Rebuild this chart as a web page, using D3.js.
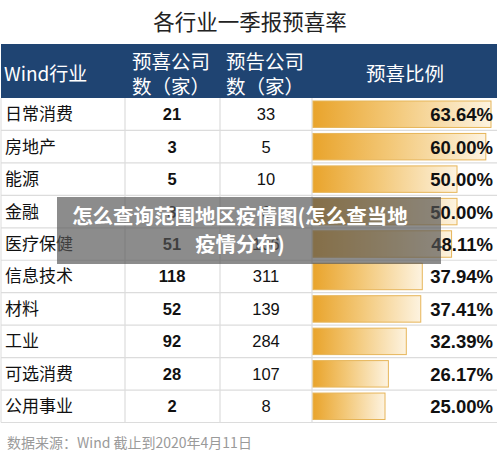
<!DOCTYPE html>
<html><head><meta charset="utf-8">
<script src="https://cdn.jsdelivr.net/npm/d3@7/dist/d3.min.js"></script>
<style>body{margin:0;background:#fff}svg{display:block}</style>
</head><body>
<script>
const categories = ["日常消费","房地产","能源","金融","医疗保健","信息技术","材料","工业","可选消费","公用事业"];
const positive = [21,3,5,3,51,118,52,92,28,2];
const announced = [33,5,10,6,106,311,139,284,107,8];
const ratio = [63.64,60.00,50.00,50.00,48.11,37.94,37.41,32.39,26.17,25.00];
const title = "各行业一季报预喜率";
const footer = "数据来源：Wind 截止到2020年4月11日";
const overlayLines = ["怎么查询范围地区疫情图(怎么查当地","疫情分布)"];

const W=500,H=464;
const svg=d3.select("body").append("svg").attr("width",W).attr("height",H);
const cjk="'Noto Sans CJK SC','Noto Sans',sans-serif";
const num="'Liberation Sans',Arial,sans-serif";

const defs=svg.append("defs");
const g=defs.append("linearGradient").attr("id","bg").attr("x1","0").attr("x2","1");
g.append("stop").attr("offset","0").attr("stop-color","#e9a42c");
g.append("stop").attr("offset","0.45").attr("stop-color","#f3c878");
g.append("stop").attr("offset","1").attr("stop-color","#fdf3e0");

svg.append("text").attr("x",250).attr("y",30).attr("text-anchor","middle")
 .attr("font-family",cjk).attr("font-size",21.5).attr("fill","#222").text(title);

const left=1,right=497,headTop=44,headBot=98;
svg.append("rect").attr("x",left).attr("y",headTop).attr("width",right-left).attr("height",headBot-headTop).attr("fill","#1f4472");
const hs=svg.append("g").attr("font-family",cjk).attr("font-size",19.5).attr("fill","#fff");
hs.append("text").attr("x",4).attr("y",81).attr("font-size",19).text("Wind行业");
hs.append("text").attr("x",132).attr("y",69).text("预喜公司");
hs.append("text").attr("x",132).attr("y",94).text("数（家）");
hs.append("text").attr("x",226).attr("y",69).text("预告公司");
hs.append("text").attr("x",226).attr("y",94).text("数（家）");
hs.append("text").attr("x",405).attr("y",81).attr("text-anchor","middle").text("预喜比例");

const y=d3.scaleBand().domain(categories).range([headBot,422.5]);
const barX=313;
const x=d3.scaleLinear().domain([0,61.8]).range([0,178]).clamp(true);

const rows=svg.append("g");
rows.selectAll("line.h").data(categories).join("line")
 .attr("x1",left).attr("x2",right).attr("y1",d=>y(d)+y.bandwidth()).attr("y2",d=>y(d)+y.bandwidth())
 .attr("stroke","#dcdcdc").attr("stroke-width",1.2);
[125,220,312].forEach(cx=>rows.append("line").attr("x1",cx).attr("x2",cx).attr("y1",headBot).attr("y2",422.5).attr("stroke","#dcdcdc").attr("stroke-width",1.2));
rows.append("line").attr("x1",left).attr("x2",left).attr("y1",headBot).attr("y2",422.5).attr("stroke","#dcdcdc");

rows.selectAll("rect.bar").data(categories).join("rect")
 .attr("x",barX).attr("y",d=>y(d)+3).attr("height",y.bandwidth()-6)
 .attr("width",(d,i)=>x(ratio[i])).attr("fill","url(#bg)").attr("stroke","#e6b559").attr("stroke-width",1);

rows.selectAll("text.cat").data(categories).join("text")
 .attr("x",5).attr("y",d=>y(d)+y.bandwidth()/2+6).attr("font-family",cjk).attr("font-size",17).attr("fill","#111").text(d=>d);
rows.selectAll("text.p").data(categories).join("text")
 .attr("x",172).attr("y",d=>y(d)+y.bandwidth()/2+6).attr("text-anchor","middle").attr("font-family",num).attr("font-weight","bold").attr("font-size",16.5).attr("fill","#111").text((d,i)=>positive[i]);
rows.selectAll("text.a").data(categories).join("text")
 .attr("x",266).attr("y",d=>y(d)+y.bandwidth()/2+6).attr("text-anchor","middle").attr("font-family",num).attr("font-size",16.5).attr("fill","#111").text((d,i)=>announced[i]);
rows.selectAll("text.r").data(categories).join("text")
 .attr("x",493).attr("y",d=>y(d)+y.bandwidth()/2+7).attr("text-anchor","end").attr("font-family",num).attr("font-weight","bold").attr("font-size",18.5).attr("fill","#111").text((d,i)=>ratio[i].toFixed(2)+"%");

svg.append("text").attr("x",7).attr("y",448).attr("font-family",cjk).attr("font-size",14).attr("fill","#9a9a9a").text(footer);

svg.append("rect").attr("x",57).attr("y",197).attr("width",384).attr("height",67).attr("fill","rgba(85,85,85,0.68)");
svg.selectAll("text.ov").data(overlayLines).join("text")
 .attr("x",240).attr("y",(d,i)=>224+i*28).attr("text-anchor","middle").attr("font-family",cjk).attr("font-weight","bold").attr("font-size",20.5).attr("fill","#fff").text(d=>d);
</script>
</body></html>
